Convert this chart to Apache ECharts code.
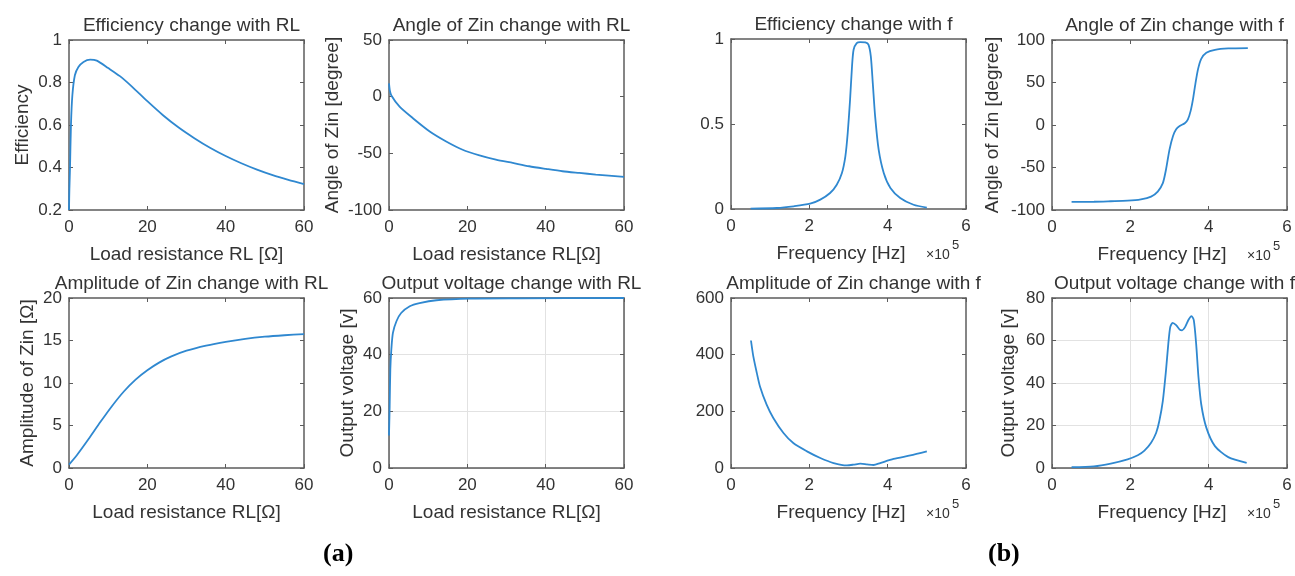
<!DOCTYPE html>
<html>
<head>
<meta charset="utf-8">
<script src="https://cdn.jsdelivr.net/npm/echarts@6/dist/echarts.min.js"></script>
<style>
  html, body { margin: 0; padding: 0; background: #fff; }
  #chart { width: 1295px; height: 576px; }
</style>
</head>
<body>
<div id="chart"></div>
<script>
// values, [x, y]
const effVsRL = [[0, 0.2], [0.1, 0.3], [0.26, 0.4], [0.5, 0.6], [0.86, 0.74], [1.5, 0.834], [2.4, 0.873], [3.7, 0.897],
  [5.4, 0.908], [7.1, 0.903], [10, 0.868], [13, 0.83], [16, 0.782], [20, 0.712], [24, 0.646], [28, 0.588], [32, 0.538],
  [36, 0.493], [40, 0.454], [44, 0.42], [48, 0.39], [52, 0.364], [56, 0.342], [60, 0.322]]
const angleVsRL = [[0, 11.7], [0.2, 5.8], [0.6, 1], [2.7, -8.8], [6.1, -19], [10.4, -30.7], [14.6, -39.5], [18.8, -46.8],
  [23.1, -51.8], [27.3, -55.6], [31.6, -58.5], [35.8, -61.4], [40.1, -63.7], [44.3, -65.8], [48.6, -67.3], [52.8, -68.7], [60, -70.8]]
const ampVsRL = [[0, 0.4], [2, 1.5], [5, 3.4], [8, 5.4], [11, 7.3], [14, 9.0], [17, 10.4], [20, 11.5], [23, 12.4],
  [26, 13.1], [30, 13.8], [35, 14.4], [40, 14.85], [45, 15.2], [50, 15.45], [55, 15.62], [60, 15.75]]
const voutVsRL = [[0, 11.5], [0.17, 22], [0.34, 34.9], [0.6, 41.9], [1.0, 47.7], [1.9, 51.8], [3.1, 54.7], [5.3, 57.1],
  [7.8, 58.2], [12.1, 59.2], [20.6, 59.8], [33.3, 59.9], [60, 60]]

// frequency in units of 1e5 Hz
const effVsF = [[0.5, 0.002], [1.17, 0.006], [1.6, 0.016], [2.02, 0.031], [2.28, 0.055], [2.53, 0.094], [2.7, 0.143],
  [2.83, 0.21], [2.92, 0.31], [2.98, 0.447], [3.04, 0.643], [3.09, 0.84], [3.13, 0.937], [3.21, 0.976], [3.3, 0.982],
  [3.43, 0.98], [3.51, 0.967], [3.57, 0.898], [3.62, 0.741], [3.68, 0.545], [3.77, 0.349], [3.9, 0.212], [4.07, 0.124],
  [4.32, 0.065], [4.66, 0.025], [5.0, 0.008]]
const angleVsF = [[0.5, -90.5], [1.07, -90.3], [1.5, -89.7], [1.93, -89], [2.27, -87.4], [2.53, -84.2], [2.7, -78.3],
  [2.83, -68.4], [2.91, -52.6], [3.0, -28.9], [3.09, -13], [3.17, -5.1], [3.26, -1.2], [3.39, 2], [3.47, 6.7],
  [3.54, 16.6], [3.6, 30.4], [3.66, 48.2], [3.73, 66], [3.81, 77.9], [3.94, 85], [4.16, 88.5], [4.5, 90.1], [5.0, 90.5]]
const ampVsF = [[0.51, 450], [0.57, 394], [0.66, 335], [0.74, 288], [0.91, 223.5], [1.08, 176.5], [1.34, 123.5],
  [1.59, 88], [1.94, 58.8], [2.28, 35.3], [2.62, 17.6], [2.96, 9.4], [3.13, 11.8], [3.3, 15.3], [3.47, 12.9],
  [3.64, 10.6], [3.81, 17.6], [4.15, 31.8], [4.58, 44.7], [5.0, 58.8]]
const voutVsF = [[0.5, 0.4], [1.07, 0.8], [1.5, 2.1], [1.93, 4.1], [2.19, 6], [2.36, 8.2], [2.53, 11.9], [2.66, 16.6],
  [2.74, 22.1], [2.83, 31.6], [2.91, 45.8], [2.97, 58.5], [3.02, 66.4], [3.08, 68.3], [3.17, 67.2], [3.26, 65.1],
  [3.32, 64.8], [3.4, 66.4], [3.49, 69.9], [3.56, 71.5], [3.62, 69.6], [3.68, 58.5], [3.74, 42.7], [3.81, 30],
  [3.94, 19], [4.16, 10.3], [4.5, 5.1], [4.97, 2.4]]

const titles = [
  'Efficiency change with RL', 'Angle of Zin change with RL', 'Amplitude of Zin change with RL', 'Output voltage change with RL',
  'Efficiency change with f', 'Angle of Zin change with f', 'Amplitude of Zin change with f', 'Output voltage change with f',
]
const xNames = [
  'Load resistance RL [Ω]', 'Load resistance RL[Ω]', 'Load resistance RL[Ω]', 'Load resistance RL[Ω]',
  'Frequency [Hz]', 'Frequency [Hz]', 'Frequency [Hz]', 'Frequency [Hz]',
]
const yNames = ['Efficiency', 'Angle of Zin [degree]', 'Amplitude of Zin [Ω]', 'Output voltage [v]',
  '', 'Angle of Zin [degree]', '', 'Output voltage [v]']
// [min, max, interval]
const xRanges = [[0, 60, 20], [0, 60, 20], [0, 60, 20], [0, 60, 20], [0, 6, 2], [0, 6, 2], [0, 6, 2], [0, 6, 2]]
const yRanges = [[0.2, 1, 0.2], [-100, 50, 50], [0, 20, 5], [0, 60, 20], [0, 1, 0.5], [-100, 100, 50], [0, 600, 200], [0, 80, 20]]
const seriesData = [effVsRL, angleVsRL, ampVsRL, voutVsRL, effVsF, angleVsF, ampVsF, voutVsF]

// layout
const panels = [
  { left: 69, top: 40 }, { left: 389, top: 40 }, { left: 69, top: 298 }, { left: 389, top: 298 },
  { left: 731, top: 39 }, { left: 1052, top: 40 }, { left: 731, top: 298 }, { left: 1052, top: 298 },
]
const plotW = 235
const plotH = 170
const yNameGaps = [37, 47, 32, 32, 0, 50, 0, 34]
const withGrid = [false, false, false, true, false, false, false, true]

const font = 'Liberation Sans, Arial, sans-serif'
const textColor = '#333'
const axisColor = '#5c5c5c'
const lineColor = '#2f88d0'

const grids = []
const xAxes = []
const yAxes = []
const series = []
const titleList = []
const graphics = []

panels.forEach((p, i) => {
  grids.push({ left: p.left, top: p.top, width: plotW, height: plotH })
  const [xMin, xMax, xStep] = xRanges[i]
  const [yMin, yMax, yStep] = yRanges[i]
  const isFreq = i >= 4

  const base = {
    type: 'value',
    gridIndex: i,
    axisLine: { show: true, onZero: false, lineStyle: { color: axisColor, width: 1.5 } },
    axisTick: { show: true, inside: true, length: 4, lineStyle: { color: axisColor } },
  }

  xAxes.push({
    ...base,
    min: xMin, max: xMax, interval: xStep,
    position: 'bottom',
    axisLabel: { color: textColor, fontSize: 17, margin: 9, fontFamily: font },
    splitLine: { show: withGrid[i], lineStyle: { color: '#e2e2e2' } },
    name: xNames[i],
    nameLocation: 'middle',
    nameGap: 35,
    nameTextStyle: {
      color: textColor, fontSize: 19, fontFamily: font,
      padding: isFreq ? [0, 15, 0, 0] : 0,
    },
  })
  xAxes.push({
    ...base,
    min: xMin, max: xMax, interval: xStep,
    position: 'top',
    axisLabel: { show: false },
    splitLine: { show: false },
  })

  yAxes.push({
    ...base,
    min: yMin, max: yMax, interval: yStep,
    position: 'left',
    axisLabel: { color: textColor, fontSize: 17, margin: 7, fontFamily: font },
    splitLine: { show: withGrid[i], lineStyle: { color: '#e2e2e2' } },
    name: yNames[i],
    nameLocation: 'middle',
    nameGap: yNameGaps[i],
    nameTextStyle: { color: textColor, fontSize: 19, fontFamily: font },
  })
  yAxes.push({
    ...base,
    min: yMin, max: yMax, interval: yStep,
    position: 'right',
    axisLabel: { show: false },
    splitLine: { show: false },
  })

  series.push({
    type: 'line',
    xAxisIndex: i * 2,
    yAxisIndex: i * 2,
    data: seriesData[i],
    showSymbol: false,
    smooth: 0.25,
    clip: true,
    lineStyle: { color: lineColor, width: 1.8 },
    z: 3,
  })

  titleList.push({
    text: titles[i],
    left: p.left + plotW / 2,
    top: p.top - 29,
    textAlign: 'center',
    textStyle: { color: textColor, fontSize: 19, fontWeight: 'normal', fontFamily: font },
  })

  if (isFreq) {
    const right = p.left + plotW
    const y = p.top + plotH + 46
    graphics.push({
      type: 'text',
      left: right - 40,
      top: y - 7,
      style: { text: '×10', fill: textColor, font: '14px ' + font },
    })
    graphics.push({
      type: 'text',
      left: right - 14,
      top: y - 16,
      style: { text: '5', fill: textColor, font: '13px ' + font },
    })
  }
})

graphics.push({
  type: 'text', left: 323, top: 541,
  style: { text: '(a)', fill: '#000', font: 'bold 26px Liberation Serif, Times New Roman, serif' },
})
graphics.push({
  type: 'text', left: 988, top: 541,
  style: { text: '(b)', fill: '#000', font: 'bold 26px Liberation Serif, Times New Roman, serif' },
})

const chart = echarts.init(document.getElementById('chart'))
chart.setOption({
  animation: false,
  backgroundColor: '#fff',
  title: titleList,
  grid: grids,
  xAxis: xAxes,
  yAxis: yAxes,
  series,
  graphic: graphics,
})
</script>
</body>
</html>
